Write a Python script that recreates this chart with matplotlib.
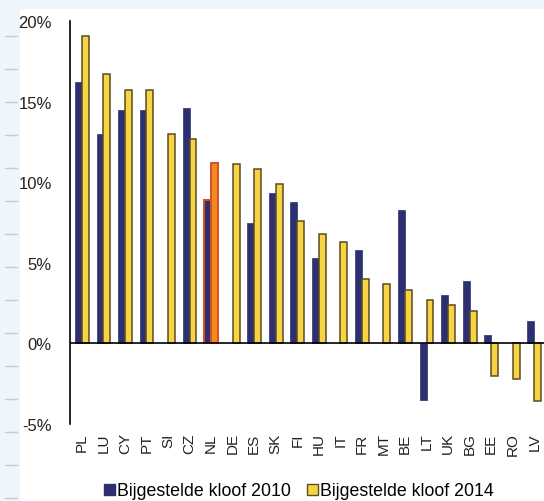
import numpy as np
import matplotlib.pyplot as plt
from matplotlib.patches import Rectangle, Patch
from matplotlib.lines import Line2D

plt.rcParams["font.family"] = ["Liberation Sans", "DejaVu Sans"]

countries = ["PL", "LU", "CY", "PT", "SI", "CZ", "NL", "DE", "ES", "SK", "FI",
             "HU", "IT", "FR", "MT", "BE", "LT", "UK", "BG", "EE", "RO", "LV"]
kloof_2010 = [16.2, 13.0, 14.5, 14.5, 0.0, 14.6, 8.9, 0.0, 7.5, 9.3, 8.8,
              5.3, 0.0, 5.8, 0.0, 8.3, -3.5, 3.0, 3.9, 0.5, 0.0, 1.4]
kloof_2014 = [19.1, 16.7, 15.7, 15.7, 13.0, 12.7, 11.2, 11.1, 10.8, 9.9, 7.6,
              6.8, 6.3, 4.0, 3.7, 3.3, 2.7, 2.4, 2.0, -2.0, -2.2, -3.6]
yticks = [-5, 0, 5, 10, 15, 20]
highlight = "NL"

navy = "#2c3070"
yellow = "#f6d444"
yellow_edge = "#5c4c22"
orange = "#f08a22"
orange_edge = "#d8501e"

W, H = 544, 502
fig = plt.figure(figsize=(W / 100, H / 100), dpi=100)
fig.patch.set_facecolor("#eef5fb")
fig.patches.append(Rectangle((20 / W, 0), 1, 1 - 10 / H, transform=fig.transFigure,
                             facecolor="white", edgecolor="none", zorder=-1))
# little grey page dashes on the left edge
for yp in np.arange(37, H, 33):
    fig.lines.append(Line2D([5 / W, 17 / W], [1 - yp / H, 1 - yp / H],
                            transform=fig.transFigure, color="#c8ccd0", lw=1, zorder=-1))

ax = fig.add_axes([70 / W, 77 / H, 474 / W, 403 / H])
ax.set_facecolor("none")
ax.set_zorder(2)

x = np.arange(len(countries))
w = 0.32
for i, c in enumerate(countries):
    if c == highlight:
        fc1, ec1, fc2, ec2 = navy, orange_edge, orange, orange_edge
    else:
        fc1, ec1, fc2, ec2 = navy, navy, yellow, yellow_edge
    if kloof_2010[i] != 0:
        ax.bar(x[i] - w / 2, kloof_2010[i], w, color=fc1, edgecolor=ec1, linewidth=1.4 if c == highlight else 0.5)
    ax.bar(x[i] + w / 2, kloof_2014[i], w, color=fc2, edgecolor=ec2, linewidth=1.4 if c == highlight else 1.1)

ax.axhline(0, color="black", lw=1.2)
ax.set_xlim(-0.55, 21.45)
ax.set_ylim(-5, 20)
ax.set_yticks(yticks)
ax.set_yticklabels([f"{t}%" for t in yticks], fontsize=12, color="#222222")
ax.set_xticks(x)
ax.set_xticklabels(countries, rotation=90, fontsize=11, color="#222222")
ax.tick_params(length=0, axis="y", pad=13)
ax.tick_params(length=0, axis="x", pad=6)
for s in ["top", "right", "bottom"]:
    ax.spines[s].set_visible(False)
ax.spines["left"].set_linewidth(1.2)

handles = [Patch(facecolor=navy, edgecolor=navy),
           Patch(facecolor=yellow, edgecolor=yellow_edge)]
fig.legend(handles, ["Bijgestelde kloof 2010", "Bijgestelde kloof 2014"],
           loc="center", bbox_to_anchor=(299 / W, 1 - 492 / H), ncol=2, frameon=False,
           fontsize=12.8, handlelength=0.6, handleheight=0.6, handletextpad=0.15,
           columnspacing=0.9)

fig.savefig("out.png", dpi=100)
